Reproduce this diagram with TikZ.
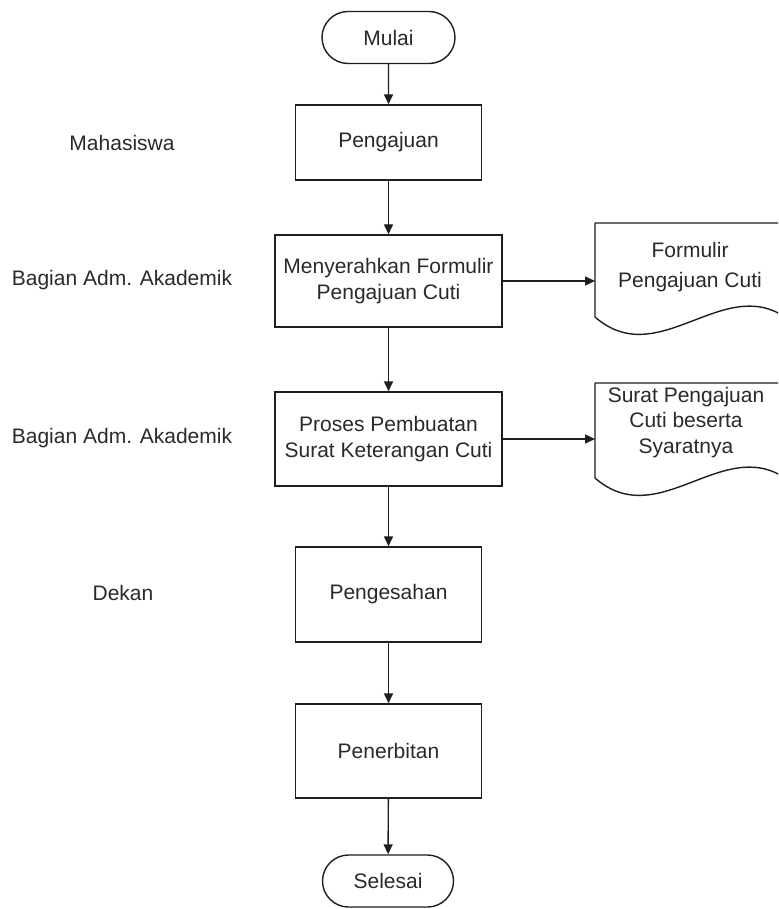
\documentclass[tikz,border=0pt]{standalone}
\usepackage{fontspec}
\setmainfont{Liberation Sans}
\usetikzlibrary{arrows.meta,shapes.misc}
\definecolor{txt}{HTML}{2A2A2A}
\definecolor{ln}{HTML}{1E1E1E}
\begin{document}
\begin{tikzpicture}[x=1pt,y=-1pt,
  every node/.style={font=\fontsize{21}{26}\selectfont, text=txt, align=center},
  term/.style={draw=ln, line width=1.4pt, rounded rectangle, minimum width=133pt, minimum height=52pt, inner sep=0pt},
  procbox/.style={draw=ln, line width=1.4pt, rectangle, inner sep=0pt},
  lane/.style={inner sep=0pt},
  flow/.style={draw=ln, line width=1.4pt, -{Triangle[length=10pt,width=9pt]}},
  docline/.style={draw=ln, line width=1.4pt, line join=round}
]
\useasboundingbox (0,0) rectangle (778,909);
\clip (0,0) rectangle (778,909);
\fill[white] (0,0) rectangle (778,909);

% lane labels
\node[lane] (l1) at (122,143) {Mahasiswa};
\node[lane] (l2) at (122,280) {Bagian Adm. Akademik};
\node[lane] (l3) at (122,438) {Bagian Adm. Akademik};
\node[lane] (l4) at (123,593) {Dekan};

% flow nodes
\node[term] (mulai) at (388.5,37.5) {Mulai};
\node[procbox, minimum width=186pt, minimum height=75pt] (pengajuan) at (388.5,142.5) {Pengajuan};
\node[procbox, minimum width=227pt, minimum height=92pt] (menyerahkan) at (388.5,281) {Menyerahkan Formulir\\Pengajuan Cuti};
\node[procbox, minimum width=227pt, minimum height=94pt] (proses) at (388.5,439) {Proses Pembuatan\\Surat Keterangan Cuti};
\node[procbox, minimum width=186pt, minimum height=95pt] (pengesahan) at (388.5,594.5) {Pengesahan};
\node[procbox, minimum width=186pt, minimum height=94pt] (penerbitan) at (388.5,751) {Penerbitan};
\node[term, minimum width=131pt] (selesai) at (388,881) {Selesai};

% documents
\draw[docline] (595,317) .. controls (658,372) and (722,275) .. (785,317) -- (785,223) -- (595,223) -- cycle;
\node[font=\fontsize{21}{30}\selectfont] (formulir) at (690,267) {Formulir\\Pengajuan Cuti};
\coordinate (formulirL) at (595,281);

\draw[docline] (595,478) .. controls (658,533) and (722,436) .. (785,478) -- (785,383) -- (595,383) -- cycle;
\node[font=\fontsize{21}{25.5}\selectfont] (surat) at (686,422.5) {Surat Pengajuan\\Cuti beserta\\Syaratnya};
\coordinate (suratL) at (595,439);

% connectors
\draw[flow] (mulai) -- (pengajuan);
\draw[flow] (pengajuan) -- (menyerahkan);
\draw[flow] (menyerahkan) -- (proses);
\draw[flow] (proses) -- (pengesahan);
\draw[flow] (pengesahan) -- (penerbitan);
\draw[flow] (penerbitan) -- (selesai);
\draw[flow] (menyerahkan.east) -- (formulirL);
\draw[flow] (proses.east) -- (suratL);
\end{tikzpicture}
\end{document}
